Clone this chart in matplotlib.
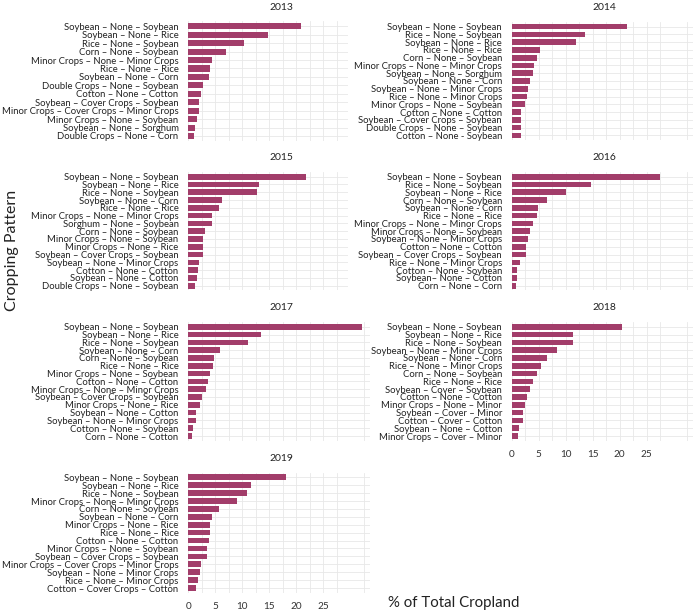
import matplotlib
matplotlib.use("Agg")
import matplotlib.pyplot as plt
import numpy as np

plt.rcParams['font.family'] = ['Lato', 'DejaVu Sans']

# ---- data ----
labels_2013 = ["Soybean – None – Soybean", "Soybean – None – Rice", "Rice – None – Soybean",
               "Corn – None – Soybean", "Minor Crops – None – Minor Crops", "Rice – None – Rice",
               "Soybean – None – Corn", "Double Crops – None – Soybean", "Cotton – None – Cotton",
               "Soybean – Cover Crops – Soybean", "Minor Crops – Cover Crops – Minor Crops",
               "Minor Crops – None – Soybean", "Soybean – None – Sorghum", "Double Crops – None – Corn"]
values_2013 = [20.9, 14.8, 10.3, 7.0, 4.3, 4.0, 3.8, 2.7, 2.35, 2.0, 2.0, 1.7, 1.2, 1.0]

labels_2014 = ["Soybean – None – Soybean", "Rice – None – Soybean", "Soybean – None – Rice",
               "Rice – None – Rice", "Corn – None – Soybean", "Minor Crops – None – Minor Crops",
               "Soybean – None – Sorghum", "Soybean – None – Corn", "Soybean – None – Minor Crops",
               "Rice – None – Minor Crops", "Minor Crops – None – Soybean", "Cotton – None – Cotton",
               "Soybean – Cover Crops – Soybean", "Double Crops – None – Soybean", "Cotton – None - Soybean"]
values_2014 = [21.4, 13.6, 11.9, 5.2, 4.6, 4.1, 4.0, 3.4, 3.1, 2.8, 2.5, 1.8, 1.7, 1.7, 1.7]

labels_2015 = ["Soybean – None – Soybean", "Soybean – None – Rice", "Rice – None – Soybean",
               "Soybean – None – Corn", "Rice – None – Rice", "Minor Crops – None – Minor Crops",
               "Sorghum – None – Soybean", "Corn – None – Soybean", "Minor Crops – None – Soybean",
               "Minor Crops – None – Rice", "Soybean – Cover Crops – Soybean", "Soybean – None – Minor Crops",
               "Cotton – None – Cotton", "Soybean – None – Cotton", "Double Crops – None – Soybean"]
values_2015 = [21.8, 13.0, 12.7, 6.2, 5.7, 4.4, 4.4, 3.0, 2.8, 2.8, 2.8, 1.9, 1.85, 1.6, 1.3]

labels_2016 = ["Soybean – None – Soybean", "Rice – None – Soybean", "Soybean – None – Rice",
               "Corn – None – Soybean", "Soybean – None - Corn", "Rice – None – Rice",
               "Minor Crops – None – Minor Crops", "Minor Crops – None – Soybean",
               "Soybean – None – Minor Crops", "Cotton – None – Cotton", "Soybean – Cover Crops – Soybean",
               "Rice – None – Minor Crops", "Cotton – None - Soybean", "Soybean– None – Cotton",
               "Corn – None – Corn"]
values_2016 = [27.5, 14.7, 10.1, 6.5, 4.8, 4.7, 4.0, 3.4, 3.0, 2.7, 2.6, 1.5, 1.05, 0.9, 0.75]

labels_2017 = ["Soybean – None – Soybean", "Soybean – None – Rice", "Rice – None – Soybean",
               "Soybean – None – Corn", "Corn – None – Soybean", "Rice – None – Rice",
               "Minor Crops – None – Soybean", "Cotton – None – Cotton", "Minor Crops – None – Minor Crops",
               "Soybean – Cover Crops – Soybean", "Minor Crops – None – Rice", "Soybean – None – Cotton",
               "Soybean – None – Minor Crops", "Cotton – None – Soybean", "Corn – None – Cotton"]
values_2017 = [32.1, 13.5, 11.0, 5.9, 4.8, 4.5, 4.0, 3.6, 3.2, 2.5, 2.2, 1.5, 1.5, 0.8, 0.75]

labels_2018 = ["Soybean – None – Soybean", "Soybean – None – Rice", "Rice – None – Soybean",
               "Soybean – None – Minor Crops", "Soybean – None – Corn", "Rice – None – Minor Crops",
               "Corn – None – Soybean", "Rice – None – Rice", "Soybean – Cover – Soybean",
               "Cotton – None – Cotton", "Minor Crops – None – Minor", "Soybean – Cover – Minor",
               "Cotton – Cover – Cotton", "Soybean – None – Cotton", "Minor Crops – Cover – Minor"]
values_2018 = [20.4, 11.4, 11.4, 8.3, 6.5, 5.4, 4.6, 4.0, 3.3, 2.9, 2.4, 2.0, 2.0, 1.3, 1.2]

labels_2019 = ["Soybean – None – Soybean", "Soybean – None – Rice", "Rice – None – Soybean",
               "Minor Crops – None – Minor Crops", "Corn – None – Soybean", "Soybean – None – Corn",
               "Minor Crops – None – Rice", "Rice – None – Rice", "Cotton – None – Cotton",
               "Minor Crops – None – Soybean", "Soybean – Cover Crops – Soybean",
               "Minor Crops – Cover Crops – Minor Crops", "Soybean – None – Minor Crops",
               "Rice – None – Minor Crops", "Cotton – Cover Crops – Cotton"]
values_2019 = [18.1, 11.7, 10.8, 9.1, 5.7, 4.3, 4.0, 4.0, 3.8, 3.5, 3.5, 2.3, 2.1, 1.85, 1.5]

years = ["2013", "2014", "2015", "2016", "2017", "2018", "2019"]
x_ticks = [0, 5, 10, 15, 20, 25]

# ---- layout (pixel geometry of the reference) ----
W, H = 700, 614
fig = plt.figure(figsize=(W / 100, H / 100), dpi=100)
fig.patch.set_facecolor("white")

PX_PER_UNIT = 5.4
BAR_COLOR = "#A23D6A"
GRID = "#E8E8E8"

panels = [
    # year, labels, values, x0, x1, first bar center, last bar center, show x ticks, title x
    (years[0], labels_2013, values_2013, 188.3, 348, 26.3, 136.0, False, 281),
    (years[1], labels_2014, values_2014, 511.7, 693, 26.7, 135.3, False, 604),
    (years[2], labels_2015, values_2015, 188.3, 348, 176.7, 285.7, False, 281),
    (years[3], labels_2016, values_2016, 511.7, 693, 176.7, 285.7, False, 604),
    (years[4], labels_2017, values_2017, 188.3, 370, 326.7, 436.0, False, 281),
    (years[5], labels_2018, values_2018, 511.7, 693, 326.7, 436.0, True, 604),
    (years[6], labels_2019, values_2019, 188.3, 370, 477.3, 588.0, True, 281),
]

for year, labs, vals, x0, x1, yc0, yc1, showx, tx in panels:
    n = len(labs)
    sp = (yc1 - yc0) / (n - 1)
    top = yc0 - 0.6 * sp
    bot = yc1 + 0.6 * sp
    ax = fig.add_axes([x0 / W, 1 - bot / H, (x1 - x0) / W, (bot - top) / H])
    pos = np.arange(n)
    ax.barh(pos, vals, height=0.72, color=BAR_COLOR, zorder=3)
    ax.set_ylim(n - 1 + 0.6, -0.6)
    xmax = (x1 - x0) / PX_PER_UNIT
    ax.set_xlim(0, xmax)
    ax.set_yticks(pos)
    ax.set_yticklabels(labs, fontsize=6.8, color="#222222")
    ax.set_xticks(x_ticks)
    ax.set_xticks(np.arange(2.5, xmax, 5), minor=True)
    ax.grid(True, which="major", axis="both", color=GRID, linewidth=0.6, zorder=0)
    ax.grid(True, which="minor", axis="x", color=GRID, linewidth=0.6, zorder=0)
    ax.tick_params(axis="both", which="both", length=0)
    ax.tick_params(axis="y", pad=7)
    if showx:
        ax.tick_params(axis="x", labelsize=7.2, labelcolor="#333333", pad=7)
    else:
        ax.tick_params(axis="x", labelbottom=False)
    for s in ax.spines.values():
        s.set_visible(False)
    fig.text(tx / W, 1 - (yc0 - 19) / H, year, ha="center", va="center",
             fontsize=7.5, color="#222222")

fig.text(12 / W, 1 - 250 / H, "Cropping Pattern", rotation=90, ha="center", va="center",
         fontsize=11.5, color="#222222")
fig.text(454 / W, 1 - 603 / H, "% of Total Cropland", ha="center", va="center",
         fontsize=10.8, color="#222222")

fig.savefig("out.png", dpi=100, facecolor="white")
